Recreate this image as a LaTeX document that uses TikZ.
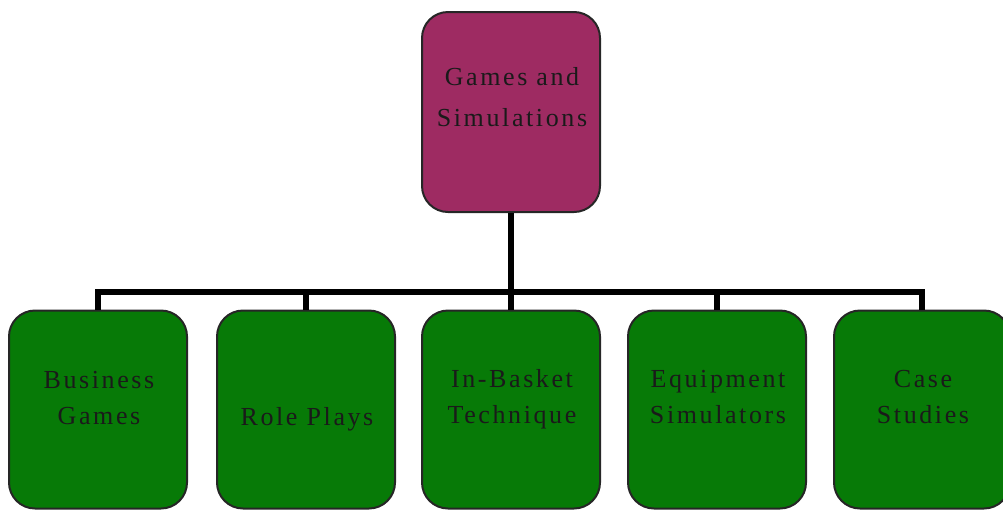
\documentclass[tikz,border=0pt]{standalone}
\usepackage{fontspec}
\setmainfont{Liberation Serif}[LetterSpace=10]
\definecolor{topfill}{HTML}{9E2B62}
\definecolor{boxgreen}{HTML}{077A07}
\definecolor{txt}{HTML}{1A1A1A}
\tikzset{
  box/.style={draw=black!85, line width=2pt, rounded corners=26pt,
    minimum width=178pt, minimum height=198pt, inner sep=0pt},
  lbl/.style={font=\fontsize{26}{36}\selectfont, align=center, text=txt, anchor=base, inner sep=0pt},
  toplbl/.style={lbl, font=\fontsize{26}{41}\selectfont},
  conn/.style={line width=6pt, draw=black, line join=miter}
}
\begin{document}
\begin{tikzpicture}[x=1pt,y=-1pt]
\useasboundingbox (0,0) rectangle (1003,512);
\clip (0,0) rectangle (1003,512);
% boxes
\node[box, fill=topfill, minimum height=200pt] (top) at (511,112) {};
\node[box, fill=boxgreen] (b1) at (98,409.5) {};
\node[box, fill=boxgreen] (b2) at (306,409.5) {};
\node[box, fill=boxgreen] (b3) at (511,409.5) {};
\node[box, fill=boxgreen] (b4) at (717,409.5) {};
\node[box, fill=boxgreen, minimum width=176pt] (b5) at (922,409.5) {};
% connectors
\coordinate (bus) at (511,292);
\draw[conn] (top.south) -- (b3.north);
\draw[conn] (b1.north) -- (b1.north |- bus) -- (b5.north |- bus) -- (b5.north);
\draw[conn] (b2.north) -- (b2.north |- bus);
\draw[conn] (b4.north) -- (b4.north |- bus);
% labels (anchor = baseline of the last line)
\node[toplbl] (ttop) at (512,126) {Games and\\Simulations};
\node[lbl] (t1) at (99,424) {Business\\Games};
\node[lbl] (t2) at (307,425) {Role Plays};
\node[lbl] (t3) at (512,423) {In-Basket\\Technique};
\node[lbl] (t4) at (718,423) {Equipment\\Simulators};
\node[lbl] (t5) at (923,423) {Case\\Studies};
\end{tikzpicture}
\end{document}
